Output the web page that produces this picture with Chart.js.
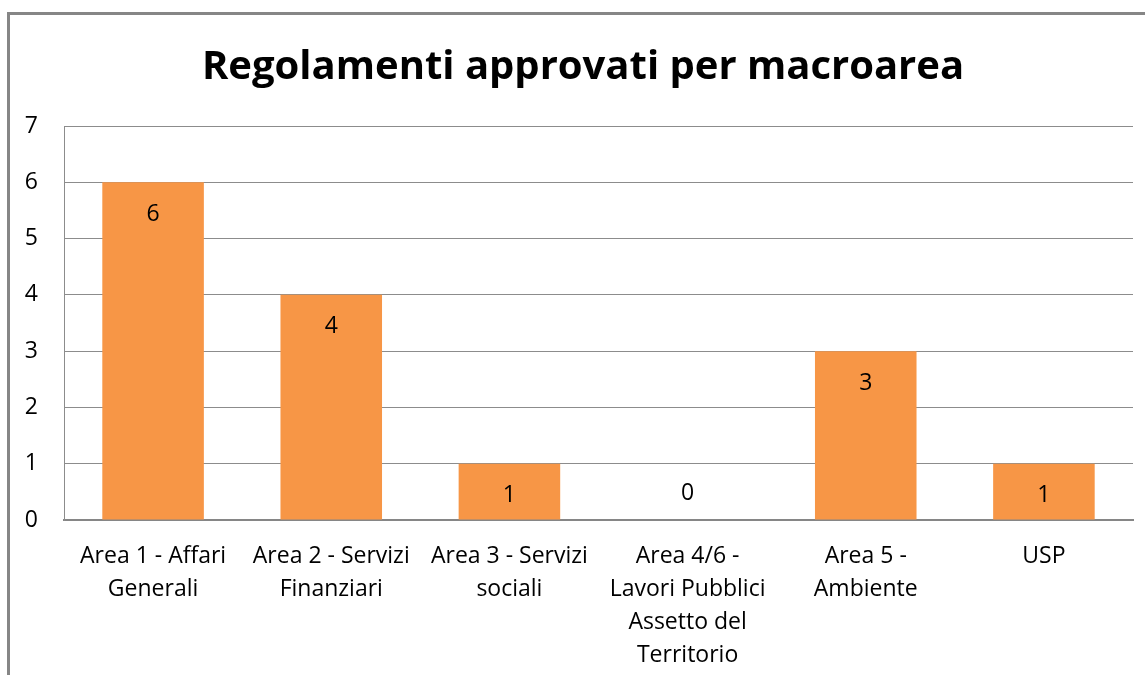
<!DOCTYPE html>
<html>
<head>
<meta charset="utf-8">
<script src="https://cdn.jsdelivr.net/npm/chart.js@4/dist/chart.umd.min.js"></script>
<style>
  html, body { margin: 0; padding: 0; background: #fff; }
  #wrap { position: relative; width: 1145px; height: 675px; overflow: hidden; }
  #frame { position: absolute; left: 7px; top: 12px; width: 1200px; height: 700px;
           border-left: 3px solid #868686; border-top: 3px solid #868686; }
  canvas { position: absolute; left: 0; top: 0; }
</style>
</head>
<body>
<div id="wrap">
  <div id="frame"></div>
  <canvas id="c" width="1145" height="675"></canvas>
</div>
<script>
const titleText = "Regolamenti approvati per macroarea";
const categories = [
  ["Area 1 - Affari", "Generali"],
  ["Area 2 - Servizi", "Finanziari"],
  ["Area 3 - Servizi", "sociali"],
  ["Area 4/6 -", "Lavori Pubblici", "Assetto del", "Territorio"],
  ["Area 5 -", "Ambiente"],
  ["USP"]
];
const values = [6, 4, 1, 0, 3, 1];
const yTicks = [0, 1, 2, 3, 4, 5, 6, 7];

const FONT = "'Open Sans', Lato, sans-serif";

const titleDraw = {
  id: 'titleDraw',
  afterDraw(chart) {
    const ctx = chart.ctx;
    ctx.save();
    ctx.font = "bold 40px " + FONT;
    ctx.fillStyle = "#000";
    ctx.textAlign = "center";
    ctx.textBaseline = "alphabetic";
    ctx.fillText(titleText, 583, 79);
    ctx.restore();
  }
};

const valueLabels = {
  id: 'valueLabels',
  afterDatasetsDraw(chart) {
    const ctx = chart.ctx;
    const meta = chart.getDatasetMeta(0);
    ctx.save();
    ctx.font = "23px " + FONT;
    ctx.fillStyle = "#000";
    ctx.textAlign = "center";
    ctx.textBaseline = "alphabetic";
    meta.data.forEach((bar, i) => {
      const v = values[i];
      const y = v > 0 ? bar.y + 38.5 : bar.base - 20;
      ctx.fillText(String(v), bar.x, y);
    });
    ctx.restore();
  }
};

new Chart(document.getElementById('c'), {
  type: 'bar',
  data: {
    labels: categories,
    datasets: [{
      data: values,
      backgroundColor: '#F79646',
      borderWidth: 0,
      categoryPercentage: 1.0,
      barPercentage: 0.57
    }]
  },
  options: {
    responsive: false,
    animation: false,
    layout: { padding: { left: 0, right: 12, top: 126, bottom: 0 } },
    plugins: {
      legend: { display: false },
      tooltip: { enabled: false },
      title: { display: false }
    },
    scales: {
      x: {
        grid: { display: false, drawTicks: false },
        border: { display: true, color: '#868686', width: 2 },
        ticks: {
          color: '#000',
          font: { family: FONT, size: 23, lineHeight: 1.43 },
          autoSkip: false,
          maxRotation: 0,
          minRotation: 0,
          padding: 20
        },
        afterFit(scale) { scale.height = 155; }
      },
      y: {
        min: 0,
        max: 7,
        afterBuildTicks(scale) { scale.ticks = yTicks.map(v => ({ value: v })); },
        grid: { color: '#8c8c8c', lineWidth: 1, drawTicks: false },
        border: { display: true, color: '#8c8c8c', width: 1 },
        ticks: {
          color: '#000',
          font: { family: FONT, size: 23 },
          padding: 26
        },
        afterFit(scale) { scale.width = 64; }
      }
    }
  },
  plugins: [valueLabels, titleDraw]
});
</script>
</body>
</html>
